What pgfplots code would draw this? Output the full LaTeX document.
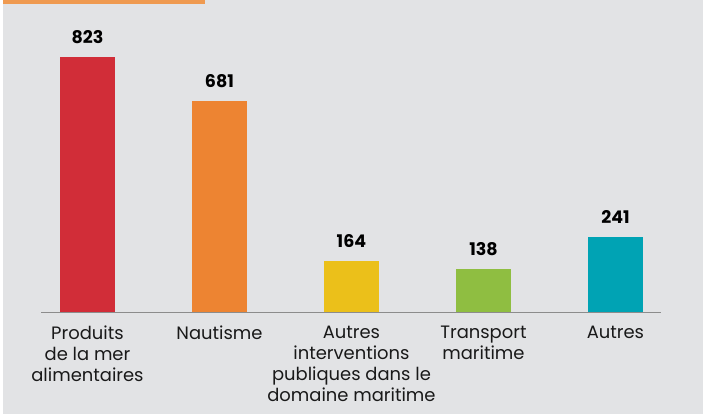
\documentclass[border=0pt]{standalone}
\usepackage{pgfplots}
\pgfplotsset{compat=1.18}
\usepackage{fontspec}
\setmainfont{Poppins}
\definecolor{bg}{HTML}{E2E3E5}
\definecolor{topbar}{HTML}{EF9A50}
\definecolor{cred}{HTML}{D12D38}
\definecolor{corange}{HTML}{ED8432}
\definecolor{cyellow}{HTML}{EBC01A}
\definecolor{cgreen}{HTML}{8FBE41}
\definecolor{cteal}{HTML}{00A3B4}
\definecolor{baseln}{HTML}{8C8C8C}

\begin{document}
\begin{tikzpicture}
\path[use as bounding box, fill=white] (0,0) rectangle (703bp,414bp);
\fill[bg] (3bp,0) rectangle (703bp,414bp);
\fill[topbar] (3bp,410bp) rectangle (205bp,414bp);
\begin{axis}[
  at={(41bp,102bp)}, anchor=south west,
  scale only axis, width=620bp, height=312bp,
  xmin=-0.352, xmax=4.345, ymin=0, ymax=1007,
  axis x line*=bottom, axis y line=none,
  x axis line style={baseln, line width=0.9pt, -},
  xtick={0,1,2,3,4}, major tick length=0pt,
  xticklabels={Produits\\de la mer\\alimentaires, Nautisme, Autres\\interventions\\publiques dans le\\domaine maritime, Transport\\maritime, Autres},
  xticklabel style={align=center, font=\fontsize{18}{21}\selectfont, text=black!90, inner sep=0pt, anchor=north, yshift=-14bp},
  ytick=\empty,
  ybar, bar width=0.4167, bar shift=0pt,
  /pgf/number format/assume math mode=true,
  nodes near coords,
  every node near coord/.append style={font=\bfseries\fontsize{17.5}{20}\selectfont, text=black, anchor=base, inner sep=0pt, yshift=14bp},
  clip=false,
]
\addplot[fill=cred, draw=none] coordinates {(0,823)};
\addplot[fill=corange, draw=none] coordinates {(1,681)};
\addplot[fill=cyellow, draw=none] coordinates {(2,164)};
\addplot[fill=cgreen, draw=none] coordinates {(3,138)};
\addplot[fill=cteal, draw=none] coordinates {(4,241)};
\end{axis}
\end{tikzpicture}
\end{document}
